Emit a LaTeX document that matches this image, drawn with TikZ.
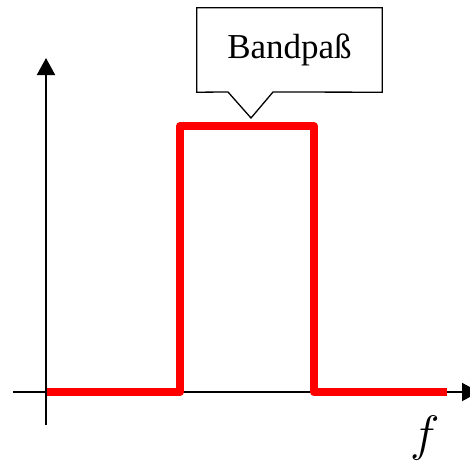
\documentclass[tikz,border=0pt]{standalone}
\usepackage{fontspec}
\setmainfont{Liberation Serif}
\usetikzlibrary{arrows.meta,calc}
\tikzset{
  axis/.style={line width=2pt,-{Triangle[length=17pt,width=18pt]}},
  signal/.style={line width=8pt,red,line join=round},
  label box/.style={rectangle,minimum width=185pt,minimum height=84pt,inner sep=0pt,font=\fontsize{35}{40}\selectfont},
  callout line/.style={draw,line width=1.3pt,line join=miter}
}
\begin{document}
\begin{tikzpicture}[x=1pt,y=-1pt]
\useasboundingbox (0,0) rectangle (470,464);
\coordinate (yb) at (46,425);
\coordinate (yt) at (46,58);
\coordinate (xl) at (13,392);
\coordinate (xr) at (479,392);
\draw[axis] (yb) -- (yt);
\draw[axis] (xl) -- (xr);
\coordinate (s0) at (47,392);
\coordinate (s1) at (180,392);
\coordinate (s2) at (180,126);
\coordinate (s3) at (314,126);
\coordinate (s4) at (314,392);
\coordinate (s5) at (447,392);
\draw[signal] (s0) -- (s1) -- (s2) -- (s3) -- (s4) -- (s5);
\node[label box] (bp) at (289.5,50) {Bandpaß};
\coordinate (tip) at (251,118);
\coordinate (pl) at (228,92);
\coordinate (pr) at (273,92);
\draw[callout line] (bp.south west) -- (bp.north west) -- (bp.north east) -- (bp.south east) -- (pr) -- (tip) -- (pl) -- cycle;
\node[font=\Huge,scale=2] (f) at (425,438) {$f$};
\end{tikzpicture}
\end{document}
